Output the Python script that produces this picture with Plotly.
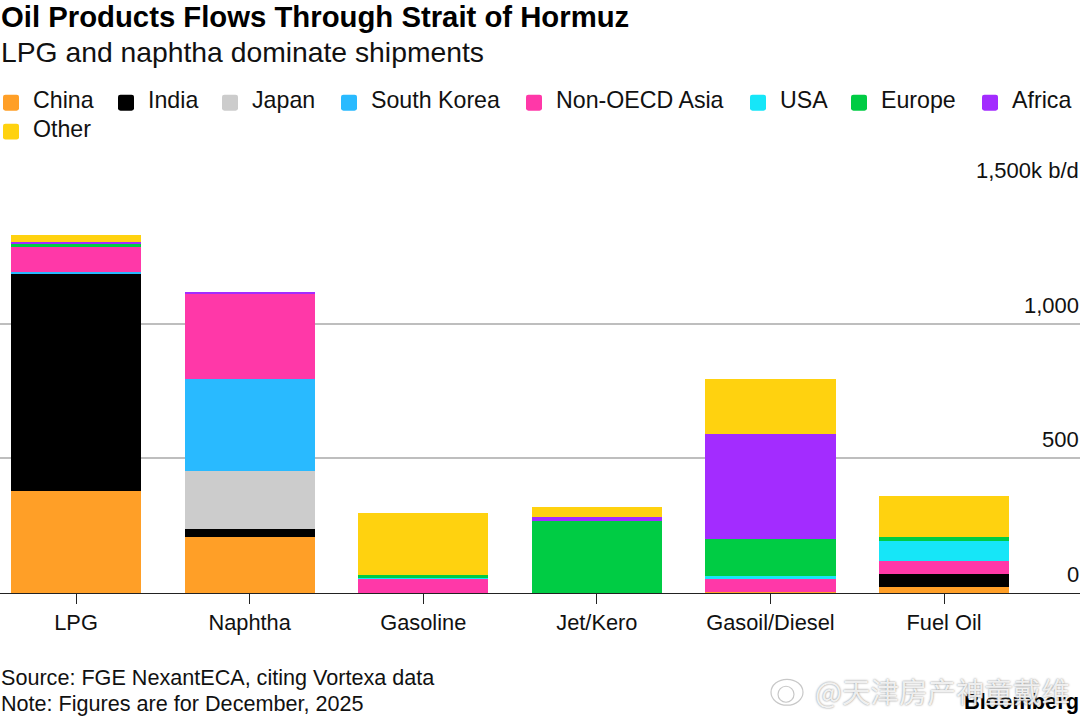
import plotly.graph_objects as go

categories = ["LPG", "Naphtha", "Gasoline", "Jet/Kero", "Gasoil/Diesel", "Fuel Oil"]
china = [380, 209, 0, 0, 4, 21]
india = [803, 30, 0, 0, 0, 50]
japan = [0, 213, 0, 0, 0, 0]
south_korea = [9, 341, 0, 0, 0, 0]
non_oecd_asia = [95, 318, 53, 0, 49, 46]
usa = [0, 0, 4, 0, 10, 76]
europe = [7, 0, 8, 268, 139, 15]
africa = [9, 4, 0, 16, 387, 0]
other = [25, 0, 232, 37, 207, 151]

series_names = ["China", "India", "Japan", "South Korea", "Non-OECD Asia", "USA", "Europe", "Africa", "Other"]
series_values = [china, india, japan, south_korea, non_oecd_asia, usa, europe, africa, other]
series_colors = ["#FF9F27", "#000000", "#CCCCCC", "#29BAFF", "#FF38A8", "#16E6F8", "#00CC44", "#A32CFF", "#FFD20F"]
legend_x = [3, 118, 222, 341, 526, 750, 851, 982, 3]
legend_y = [102, 102, 102, 102, 102, 102, 102, 102, 131]
y_ticks = [0, 500, 1000, 1500]
y_labels = ["0", "500", "1,000", "1,500k b/d"]

W, H = 1080, 718
T, B = 188.5, 593.5
FONT = "Liberation Sans"

def px(x): return x / W
def py(y): return (B - y) / (B - T)

fig = go.Figure()
for n, v, c in zip(series_names, series_values, series_colors):
    fig.add_bar(x=categories, y=v, name=n, marker=dict(color=c, line=dict(width=0)), width=0.75)

anns, shapes = [], []
def text(x, y, s, size, color="#111", xanchor="left", bold=False):
    anns.append(dict(x=px(x), y=py(y), xref="paper", yref="paper", text=f"<b>{s}</b>" if bold else s,
                     showarrow=False, xanchor=xanchor, yanchor="middle", align="left", borderpad=0,
                     font=dict(size=size, color=color, family=FONT)))

def swatch(x, y, c, s=16, r=2.5):
    x0, x1, y0, y1 = x, x + s, y - s / 2, y + s / 2
    p = (f"M {px(x0 + r)} {py(y0)} L {px(x1 - r)} {py(y0)} Q {px(x1)} {py(y0)} {px(x1)} {py(y0 + r)} "
         f"L {px(x1)} {py(y1 - r)} Q {px(x1)} {py(y1)} {px(x1 - r)} {py(y1)} "
         f"L {px(x0 + r)} {py(y1)} Q {px(x0)} {py(y1)} {px(x0)} {py(y1 - r)} "
         f"L {px(x0)} {py(y0 + r)} Q {px(x0)} {py(y0)} {px(x0 + r)} {py(y0)} Z")
    shapes.append(dict(type="path", xref="paper", yref="paper", path=p, fillcolor=c, line_width=0))

def ellipse(x0, y0, x1, y1):
    shapes.append(dict(type="circle", xref="paper", yref="paper", x0=px(x0), x1=px(x1), y0=py(y1), y1=py(y0),
                       fillcolor="rgba(255,255,255,0.8)", line=dict(color="#C8C8C8", width=1.2)))

text(-0.5, 16, "Oil Products Flows Through Strait of Hormuz", 29.3, color="#000", bold=True)
text(-0.5, 51, "LPG and naphtha dominate shipments", 28.3)
for n, c, x, y in zip(series_names, series_colors, legend_x, legend_y):
    swatch(x, y, c)
    text(x + 29, y - 3, n, 23.2)
for t, l in zip(y_ticks, y_labels):
    anns.append(dict(x=1, y=t, xref="paper", yref="y", text=l, showarrow=False, xanchor="right",
                     yanchor="bottom", yshift=5, borderpad=0, font=dict(size=22, color="#111", family=FONT)))
text(0, 678, "Source: FGE NexantECA, citing Vortexa data", 21.6)
text(0, 704, "Note: Figures are for December, 2025", 21.6)
text(1080, 702, "Bloomberg", 21.8, color="#000", xanchor="right", bold=True)
ellipse(771, 680, 803, 706)
ellipse(778, 687, 794, 703)
anns.append(dict(x=px(1071), y=py(691), xref="paper", yref="paper", text="@天津房产神童戴维", showarrow=False,
                 xanchor="right", yanchor="middle", borderpad=0,
                 font=dict(size=28.5, color="rgba(255,255,255,0.85)", family="Noto Sans CJK SC",
                           shadow="0 0 2px #666")))

fig.update_layout(
    width=W, height=H, autosize=False, barmode="stack", showlegend=False,
    paper_bgcolor="white", plot_bgcolor="white",
    margin=dict(l=0, r=0, t=T, b=H - B, pad=0),
    annotations=anns, shapes=shapes,
    xaxis=dict(range=[-0.438, 5.783], tickmode="array", tickvals=categories, ticktext=categories,
               ticks="outside", ticklen=10, tickwidth=1.4, tickcolor="#222", showline=True, linecolor="#222",
               linewidth=1.4, showgrid=False, tickfont=dict(size=21.8, color="#111", family=FONT)),
    yaxis=dict(range=[0, 1500], tickvals=y_ticks, showticklabels=False, showgrid=True, gridcolor="#BEBEBE",
               gridwidth=1.5, zeroline=False, ticks=""),
)
fig.write_html("out.html", config=dict(displayModeBar=False),
               post_script="document.body.style.margin='0';document.documentElement.style.overflow='hidden';")
